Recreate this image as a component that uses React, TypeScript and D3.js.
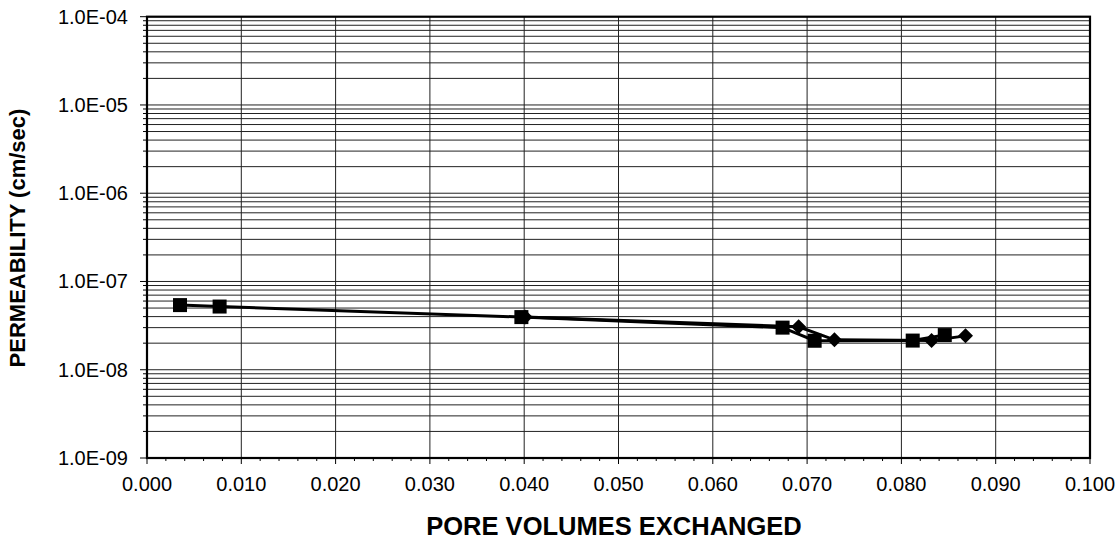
import React from "react";
import * as d3 from "d3";

const squareX = [0.0035, 0.0077, 0.0397, 0.0674, 0.0708, 0.0812, 0.0846];
const squareY = [5.4e-8, 5.2e-8, 3.95e-8, 3.0e-8, 2.13e-8, 2.14e-8, 2.47e-8];
const diamondX = [0.0401, 0.0691, 0.0729, 0.0832, 0.0868];
const diamondY = [3.95e-8, 3.07e-8, 2.18e-8, 2.15e-8, 2.42e-8];

const xTicks = [0, 0.01, 0.02, 0.03, 0.04, 0.05, 0.06, 0.07, 0.08, 0.09, 0.1];
const yDecades = [1e-9, 1e-8, 1e-7, 1e-6, 1e-5, 1e-4];
const yTickLabels = ["1.0E-09", "1.0E-08", "1.0E-07", "1.0E-06", "1.0E-05", "1.0E-04"];
const xTitle = "PORE VOLUMES EXCHANGED";
const yTitle = "PERMEABILITY (cm/sec)";

const W = 1120;
const H = 541;
const L = 147;
const R = 1090;
const T = 16.7;
const B = 458;

export default function App() {
  const x = d3.scaleLinear().domain([0, 0.1]).range([L, R]);
  const y = d3.scaleLog().domain([1e-9, 1e-4]).range([B, T]);

  const minorY: number[] = [];
  for (let k = 0; k < yDecades.length - 1; k++) {
    for (let m = 2; m <= 9; m++) minorY.push(yDecades[k] * m);
  }
  const minorX = d3.range(0, 50).filter((i) => i % 5 !== 0).map((i) => i * 0.002);

  const line = d3
    .line<[number, number]>()
    .x((d) => x(d[0]))
    .y((d) => y(d[1]));
  const sq = squareX.map((v, i) => [v, squareY[i]] as [number, number]);
  const dm = diamondX.map((v, i) => [v, diamondY[i]] as [number, number]);
  const font = "Arial, 'Liberation Sans', sans-serif";
  const dr = 7.5;

  return (
    <svg
      width={W}
      height={H}
      style={{ position: "absolute", left: 0, top: 0, background: "#fff" }}
      fontFamily={font}
    >
      <rect x={0} y={0} width={W} height={H} fill="#fff" />
      {minorY.map((v, i) => (
        <line key={"hm" + i} x1={L} x2={R} y1={y(v)} y2={y(v)} stroke="#222" strokeWidth={1} />
      ))}
      {yDecades.map((v, i) => (
        <line key={"hd" + i} x1={L} x2={R} y1={y(v)} y2={y(v)} stroke="#222" strokeWidth={1} />
      ))}
      {xTicks.map((v, i) => (
        <line key={"vg" + i} x1={x(v)} x2={x(v)} y1={T} y2={B} stroke="#222" strokeWidth={1} />
      ))}
      {minorY.map((v, i) => (
        <line key={"ytm" + i} x1={L - 4} x2={L} y1={y(v)} y2={y(v)} stroke="#000" strokeWidth={1} />
      ))}
      {yDecades.map((v, i) => (
        <line key={"ytd" + i} x1={L - 7} x2={L} y1={y(v)} y2={y(v)} stroke="#000" strokeWidth={1} />
      ))}
      {minorX.map((v, i) => (
        <line key={"xtm" + i} x1={x(v)} x2={x(v)} y1={B} y2={B + 3} stroke="#000" strokeWidth={1} />
      ))}
      {xTicks.map((v, i) => (
        <line key={"xtd" + i} x1={x(v)} x2={x(v)} y1={B} y2={B + 6} stroke="#000" strokeWidth={1} />
      ))}
      <rect x={L} y={T} width={R - L} height={B - T} fill="none" stroke="#000" strokeWidth={2.2} />
      <path d={line(sq) || ""} fill="none" stroke="#000" strokeWidth={3} />
      <path d={line(dm) || ""} fill="none" stroke="#000" strokeWidth={3} />
      {sq.map((d, i) => (
        <rect key={"sq" + i} x={x(d[0]) - 7} y={y(d[1]) - 7} width={14} height={14} fill="#000" />
      ))}
      {dm.map((d, i) => (
        <path
          key={"dm" + i}
          d={`M${x(d[0])},${y(d[1]) - dr}L${x(d[0]) + dr},${y(d[1])}L${x(d[0])},${y(d[1]) + dr}L${x(d[0]) - dr},${y(d[1])}Z`}
          fill="#000"
        />
      ))}
      {xTicks.map((v, i) => (
        <text key={"xl" + i} x={x(v)} y={491} textAnchor="middle" fontSize={20} fill="#000">
          {d3.format(".3f")(v)}
        </text>
      ))}
      {yDecades.map((v, i) => (
        <text key={"yl" + i} x={128} y={y(v) + 7} textAnchor="end" fontSize={20} fill="#000">
          {yTickLabels[i]}
        </text>
      ))}
      <text x={614} y={535} textAnchor="middle" fontSize={25.5} fontWeight="bold" fill="#000">
        {xTitle}
      </text>
      <text
        transform={`translate(25,238) rotate(-90)`}
        textAnchor="middle"
        fontSize={22}
        fontWeight="bold"
        fill="#000"
      >
        {yTitle}
      </text>
    </svg>
  );
}
